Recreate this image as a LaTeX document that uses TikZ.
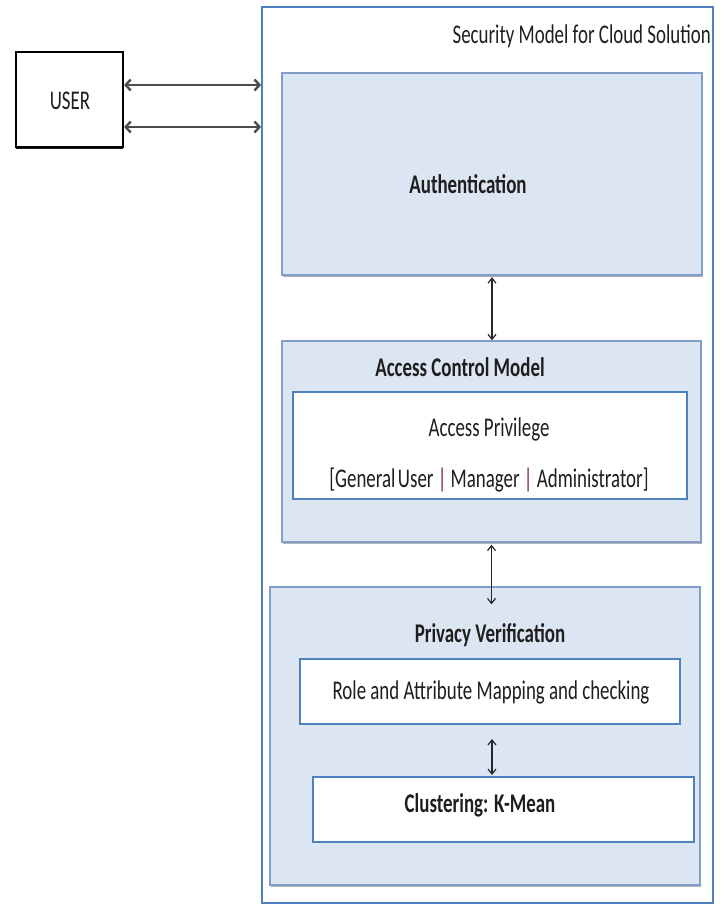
\documentclass[tikz,border=0pt]{standalone}
\usepackage{fontspec}
\setmainfont{Carlito}[FakeStretch=0.7]
\usetikzlibrary{arrows.meta,shadows}
\definecolor{panelfill}{HTML}{DCE6F2}
\definecolor{paneldraw}{HTML}{809DCB}
\definecolor{boxblue}{HTML}{4F81BD}
\definecolor{txt}{HTML}{1E1E1E}
\definecolor{barred}{HTML}{7A2A2A}
\begin{document}
\begin{tikzpicture}[x=1pt,y=-1pt,
  every node/.style={inner sep=0pt, text=txt, font=\fontsize{27}{30}\selectfont},
  panel/.style={draw=paneldraw, fill=panelfill, line width=1.4pt,
    drop shadow={shadow xshift=1.2pt, shadow yshift=-2pt, fill=black!60, opacity=.5}},
  innerbox/.style={draw=boxblue, fill=white, line width=2pt},
  outerbox/.style={draw=boxblue, line width=1.8pt},
  userbox/.style={draw=black, fill=white, line width=2.2pt,
    drop shadow={shadow xshift=0pt, shadow yshift=-1.5pt, fill=black, opacity=.9}},
  label/.style={anchor=base},
  bold/.style={font=\fontsize{27}{30}\selectfont\bfseries},
  hbiarrow/.style={draw=black!70, line width=2.4pt, {Straight Barb[length=5pt,width=11pt]}-{Straight Barb[length=5pt,width=11pt]}},
  vbiarrow/.style={draw=black!85, line width=1.2pt, {Straight Barb[length=5pt,width=8pt]}-{Straight Barb[length=5pt,width=8pt]}}
]
\useasboundingbox (0,0) rectangle (722,907);

% outer container
\node[outerbox, minimum width=451pt, minimum height=896pt] (outer) at (487.5,455) {};
\node[anchor=base east] (title) at (711,44) {Security Model for Cloud Solution};

% user
\node[userbox, minimum width=107pt, minimum height=95pt] (user) at (69.5,99.5) {};
\node[label] (usertxt) at (70,109) {USER};

% authentication
\node[panel, minimum width=420pt, minimum height=202pt] (auth) at (492,174) {};
\node[label, bold] (authtxt) at (468,193) {Authentication};

% access control model
\node[panel, minimum width=419pt, minimum height=201pt] (acm) at (491.5,441.5) {};
\node[label, bold] (acmtxt) at (460,376) {Access Control Model};
\node[innerbox, minimum width=394pt, minimum height=107pt] (ap) at (490,445.5) {};
\node[label] (aptxt) at (489,436) {Access Privilege};
\node[label] (roles) at (489,487) {[General\kern2.5pt User {\color{barred}|} Manager {\color{barred}|} Administrator]};

% privacy verification
\node[panel, minimum width=430pt, minimum height=298pt] (pv) at (485,736) {};
\node[label, bold] (pvtxt) at (490,642) {Privacy Verification};
\node[innerbox, minimum width=380pt, minimum height=65pt] (role) at (490,691.5) {};
\node[label] (roletxt) at (491,699) {Role and Attribute Mapping and checking};
\node[innerbox, minimum width=381pt, minimum height=65pt] (clus) at (503.5,809.5) {};
\node[label, bold] (clustxt) at (480,812) {Clustering: K-Mean};

% connectors
\draw[hbiarrow] ([yshift=14.5pt]user.east) -- ([yshift=14.5pt]user.east -| outer.west);
\draw[hbiarrow] ([yshift=-27.5pt]user.east) -- ([yshift=-27.5pt]user.east -| outer.west);
\draw[vbiarrow] ([yshift=-1.5pt]auth.south) -- (auth.south |- acm.north);
\draw[vbiarrow] ([yshift=-2pt]acm.south) -- ([yshift=-18pt]acm.south |- pv.north);
\draw[vbiarrow] ([xshift=2pt,yshift=-14pt]role.south) -- ([xshift=2pt,yshift=1pt]role.south |- clus.north);
\end{tikzpicture}
\end{document}
